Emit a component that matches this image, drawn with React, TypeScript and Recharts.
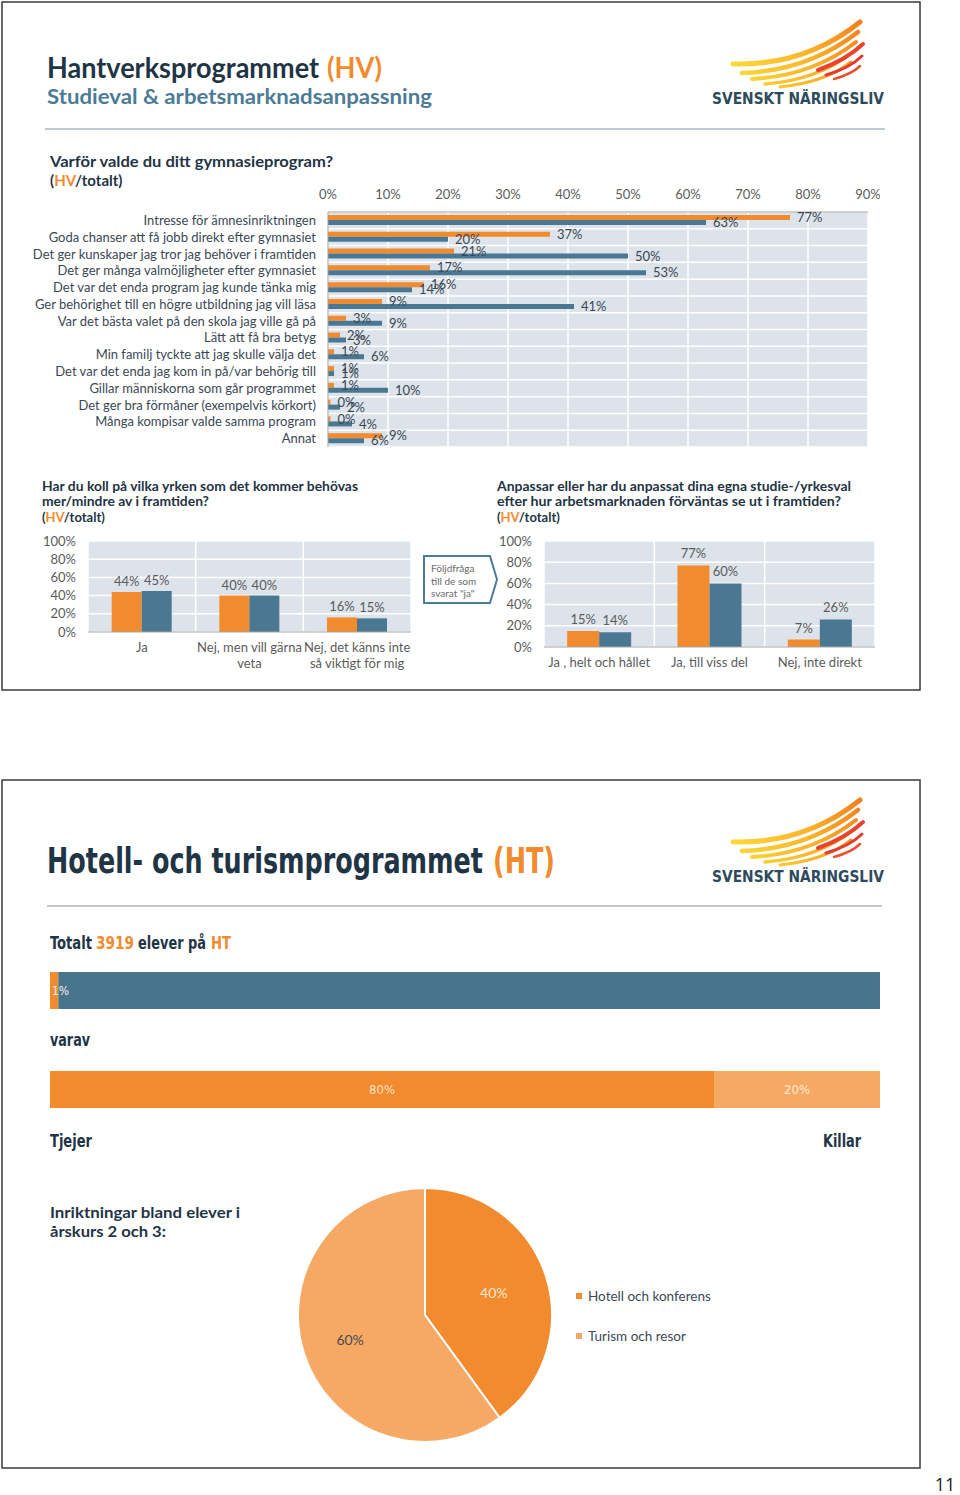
import React from "react";
import {
  BarChart,
  Bar,
  XAxis,
  YAxis,
  CartesianGrid,
  LabelList,
  PieChart,
  Pie,
  Cell,
  Legend,
} from "recharts";

// ---------- colours & fonts ----------
const ORANGE = "#f28a2e";
const BLUE = "#4a7893";
const BAR_BLUE = "#48758c";
const LIGHT_ORANGE = "#f6a964";
const PLOT_BG = "#dde3ea";
const DARK = "#1f3445";
const STEEL = "#4b7b96";
const TEXT = "#3b4854";
const TICK = "#5b5b5b";
const FONT = "Lato, 'Open Sans', sans-serif";
const NARROW = "'Liberation Sans Narrow', 'DejaVu Sans Condensed', 'Liberation Sans', sans-serif";

// ---------- data: Varför valde du ditt gymnasieprogram? ----------
const reasonLabels = [
  "Intresse för ämnesinriktningen",
  "Goda chanser att få jobb direkt efter gymnasiet",
  "Det ger kunskaper jag tror jag behöver i framtiden",
  "Det ger många valmöjligheter efter gymnasiet",
  "Det var det enda program jag kunde tänka mig",
  "Ger behörighet till en högre utbildning jag vill läsa",
  "Var det bästa valet på den skola jag ville gå på",
  "Lätt att få bra betyg",
  "Min familj tyckte att jag skulle välja det",
  "Det var det enda jag kom in på/var behörig till",
  "Gillar människorna som går programmet",
  "Det ger bra förmåner (exempelvis körkort)",
  "Många kompisar valde samma program",
  "Annat",
];
const reasonHV = [77, 37, 21, 17, 16, 9, 3, 2, 1, 1, 1, 0.4, 0.4, 9];
const reasonTotal = [63, 20, 50, 53, 14, 41, 9, 3, 6, 1, 10, 2, 4, 6];
const reasonTicks = [0, 10, 20, 30, 40, 50, 60, 70, 80, 90];

// ---------- data: Har du koll på vilka yrken ... ----------
const q2Labels = ["Ja", "Nej, men vill gärna\nveta", "Nej, det känns inte\nså viktigt för mig"];
const q2HV = [44, 40, 16];
const q2Total = [45, 40, 15];

// ---------- data: Anpassar eller har du anpassat ... ----------
const q3Labels = ["Ja , helt och hållet", "Ja, till viss del", "Nej, inte direkt"];
const q3HV = [15, 77, 7];
const q3Total = [14, 60, 26];
const colTicks = [0, 20, 40, 60, 80, 100];

// ---------- data: Hotell- och turismprogrammet ----------
const htProgram = ["HT"];
const htShare = [1];
const htOthers = [99];
const genderGirls = [80];
const genderBoys = [20];
const directionNames = ["Hotell och konferens", "Turism och resor"];
const directionValues = [40, 60];
const directionColors = [ORANGE, LIGHT_ORANGE];

// ---------- derived tables ----------
const reasonData = reasonLabels.map((name, i) => ({ name, hv: reasonHV[i], total: reasonTotal[i] }));
const q2Data = q2Labels.map((name, i) => ({ name, hv: q2HV[i], total: q2Total[i] }));
const q3Data = q3Labels.map((name, i) => ({ name, hv: q3HV[i], total: q3Total[i] }));
const htData = htProgram.map((name, i) => ({ name, share: htShare[i], others: htOthers[i] }));
const genderData = htProgram.map((name, i) => ({ name, girls: genderGirls[i], boys: genderBoys[i] }));
const directionData = directionNames.map((name, i) => ({ name, value: directionValues[i] }));

const pct = (v: any) => `${Math.round(Number(v))}%`;

const bandRows = (n: number) => ({ offset }: any) =>
  Array.from({ length: n + 1 }, (_, i) => offset.top + (i * offset.height) / n);
const bandCols = (n: number) => ({ offset }: any) =>
  Array.from({ length: n + 1 }, (_, i) => offset.left + (i * offset.width) / n);

const ReasonTick = ({ x, y, payload }: any) => (
  <text x={x} y={y} dy="0.35em" textAnchor="end" fill={TEXT} fontSize={13} fontFamily={FONT}>
    {payload.value}
  </text>
);

const CatTick = ({ x, y, payload }: any) => {
  const lines = String(payload.value).split("\n");
  return (
    <text x={x} y={y} textAnchor="middle" fill={TICK} fontSize={13} fontFamily={FONT}>
      {lines.map((l, i) => (
        <tspan key={i} x={x} dy={i === 0 ? "0.71em" : "1.18em"}>
          {l}
        </tspan>
      ))}
    </text>
  );
};

const pieLabel = (props: any) => {
  const { cx, cy, midAngle, outerRadius, percent, index } = props;
  const RAD = Math.PI / 180;
  const r = outerRadius * (index === 0 ? 0.57 : 0.62);
  const x = cx + r * Math.cos(-midAngle * RAD);
  const y = cy + r * Math.sin(-midAngle * RAD);
  return (
    <text
      x={x}
      y={y}
      textAnchor="middle"
      dominantBaseline="central"
      fill={index === 0 ? "#fde8d2" : "#4a4a4a"}
      fontSize={14}
      fontFamily={FONT}
    >
      {`${Math.round(percent * 100)}%`}
    </text>
  );
};

const PieLegend = ({ payload }: any) => (
  <div style={{ fontFamily: FONT, fontSize: 13.5, color: TEXT }}>
    {(payload || []).map((p: any, i: number) => (
      <div key={i} style={{ display: "flex", alignItems: "center", height: 20, marginBottom: 20 }}>
        <span
          style={{
            display: "inline-block",
            width: 6,
            height: 6,
            background: p.color || (p.payload && p.payload.fill),
            marginRight: 6,
          }}
        />
        <span>{p.value}</span>
      </div>
    ))}
  </div>
);

const Logo = ({ dy, id }: { dy: number; id: string }) => (
  <g transform={`translate(0, ${dy})`}>
    <defs>
      <linearGradient id={id} gradientUnits="userSpaceOnUse" x1={733} y1={70} x2={862} y2={25}>
        <stop offset="0" stopColor="#fcd93a" />
        <stop offset="0.55" stopColor="#f9b52a" />
        <stop offset="1" stopColor="#f2801f" />
      </linearGradient>
    </defs>
    <g fill="none" strokeLinecap="round">
      <path d="M733,64 Q805,66 860,22" stroke={`url(#${id})`} strokeWidth={5} />
      <path d="M742,73 Q808,71 858,32" stroke={`url(#${id})`} strokeWidth={4.5} />
      <path d="M752,79 Q812,76 856,42" stroke={`url(#${id})`} strokeWidth={4} />
      <path d="M765,84 Q818,80 853,52" stroke={`url(#${id})`} strokeWidth={3.5} />
      <path d="M780,87 Q826,82 851,62" stroke={`url(#${id})`} strokeWidth={3} />
      <path d="M818,70 Q846,60 863,44" stroke="#e8432f" strokeWidth={4} />
      <path d="M826,75 Q850,68 862,56" stroke="#e63a2f" strokeWidth={3} />
      <path d="M834,79 Q852,74 860,66" stroke="#e6532f" strokeWidth={2.5} />
    </g>
    <text
      x={712}
      y={104}
      fontSize={16}
      fontWeight={700}
      fill="#2e4a5d"
      fontFamily={NARROW}
      textLength={172}
      lengthAdjust="spacingAndGlyphs"
    >
      SVENSKT NÄRINGSLIV
    </text>
  </g>
);

const Static = () => (
  <svg width={960} height={1495} style={{ position: "absolute", left: 0, top: 0 }}>
    {/* ---------- slide 1 ---------- */}
    <rect x={2} y={2} width={918} height={688} fill="none" stroke="#3a3a3a" strokeWidth={1.5} />
    <g fontFamily={FONT} fontWeight={700} fontSize={28}>
      <text x={47} y={78} fill={DARK} textLength={272} lengthAdjust="spacingAndGlyphs">
        Hantverksprogrammet
      </text>
      <text x={327} y={78} fill={ORANGE} textLength={55} lengthAdjust="spacingAndGlyphs">
        (HV)
      </text>
    </g>
    <text x={47} y={104} fontSize={20} fontWeight={700} fill={STEEL} fontFamily={FONT} textLength={385} lengthAdjust="spacingAndGlyphs">
      Studieval &amp; arbetsmarknadsanpassning
    </text>
    <line x1={45} y1={129} x2={885} y2={129} stroke="#bfcbd3" strokeWidth={2} />
    <Logo dy={0} id="wing1" />

    <g fontFamily={FONT} fontWeight={700} fill={DARK}>
      <text x={50} y={167} fontSize={15} textLength={283} lengthAdjust="spacingAndGlyphs">
        Varför valde du ditt gymnasieprogram?
      </text>
      <text x={50} y={186} fontSize={15}>
        (<tspan fill={ORANGE}>HV</tspan>/totalt)
      </text>

      <text x={42} y={491} fontSize={13} textLength={316} lengthAdjust="spacingAndGlyphs">
        Har du koll på vilka yrken som det kommer behövas
      </text>
      <text x={42} y={506} fontSize={13} textLength={167} lengthAdjust="spacingAndGlyphs">
        mer/mindre av i framtiden?
      </text>
      <text x={42} y={522} fontSize={13}>
        (<tspan fill={ORANGE}>HV</tspan>/totalt)
      </text>

      <text x={497} y={491} fontSize={13} textLength={354} lengthAdjust="spacingAndGlyphs">
        Anpassar eller har du anpassat dina egna studie-/yrkesval
      </text>
      <text x={497} y={506} fontSize={13} textLength={344} lengthAdjust="spacingAndGlyphs">
        efter hur arbetsmarknaden förväntas  se ut i framtiden?
      </text>
      <text x={497} y={522} fontSize={13}>
        (<tspan fill={ORANGE}>HV</tspan>/totalt)
      </text>
    </g>

    <path d="M424,556 L490,556 L497,579.5 L490,603 L424,603 Z" fill="#fff" stroke={STEEL} strokeWidth={2} />
    <g fontFamily={FONT} fontSize={10} fill="#6a6a6a">
      <text x={431} y={572}>Följdfråga</text>
      <text x={431} y={585}>till de som</text>
      <text x={431} y={597}>svarat "ja"</text>
    </g>

    {/* ---------- slide 2 ---------- */}
    <rect x={2} y={780} width={918} height={688} fill="none" stroke="#3a3a3a" strokeWidth={1.5} />
    <g fontFamily={NARROW} fontWeight={700} fontSize={36}>
      <text x={47} y={873} fill={DARK} textLength={436} lengthAdjust="spacingAndGlyphs">
        Hotell- och turismprogrammet
      </text>
      <text x={493} y={873} fill={ORANGE} textLength={62} lengthAdjust="spacingAndGlyphs">
        (HT)
      </text>
    </g>
    <Logo dy={778} id="wing2" />
    <line x1={47} y1={906} x2={882} y2={906} stroke="#c6c6c6" strokeWidth={2} />

    <g fontFamily={NARROW} fontWeight={700} fill={DARK} fontSize={17}>
      <text x={50} y={949} textLength={42} lengthAdjust="spacingAndGlyphs">Totalt</text>
      <text x={96} y={949} fill={ORANGE} textLength={38} lengthAdjust="spacingAndGlyphs">3919</text>
      <text x={138} y={949} textLength={68} lengthAdjust="spacingAndGlyphs">elever på</text>
      <text x={211} y={949} fill={ORANGE} textLength={20} lengthAdjust="spacingAndGlyphs">HT</text>
      <text x={50} y={1046} textLength={40} lengthAdjust="spacingAndGlyphs">varav</text>
      <text x={50} y={1147} textLength={42} lengthAdjust="spacingAndGlyphs">Tjejer</text>
      <text x={823} y={1147} textLength={38} lengthAdjust="spacingAndGlyphs">Killar</text>
    </g>
    <g fontFamily={FONT} fontWeight={700} fill={DARK} fontSize={15}>
      <text x={50} y={1218} textLength={190} lengthAdjust="spacingAndGlyphs">Inriktningar bland elever i</text>
      <text x={50} y={1237} textLength={116} lengthAdjust="spacingAndGlyphs">årskurs 2 och 3:</text>
    </g>

    <text x={945} y={1491} textAnchor="middle" fontSize={18} fill="#222" fontFamily="'Open Sans', sans-serif">
      11
    </text>
  </svg>
);

export default function App() {
  return (
    <div
      style={{
        position: "absolute",
        left: 0,
        top: 0,
        width: 960,
        height: 1495,
        background: "#fff",
        fontFamily: FONT,
        overflow: "hidden",
      }}
    >
      <Static />

      {/* Varför valde du ditt gymnasieprogram? */}
      <div style={{ position: "absolute", left: 20, top: 180 }}>
        <BarChart
          layout="vertical"
          width={860}
          height={270}
          data={reasonData}
          margin={{ top: 0, right: 12, bottom: 3, left: 0 }}
          barGap={0}
          barSize={5}
        >
          <CartesianGrid
            fill={PLOT_BG}
            stroke="#ffffff"
            strokeWidth={1.5}
            horizontalCoordinatesGenerator={bandRows(reasonData.length)}
          />
          <XAxis
            type="number"
            orientation="top"
            domain={[0, 90]}
            ticks={reasonTicks}
            interval={0}
            tickFormatter={pct}
            height={32}
            axisLine={{ stroke: "#a0a0a0" }}
            tickLine={false}
            tickSize={0}
            tickMargin={13}
            tick={{ fill: TICK, fontSize: 13, fontFamily: FONT }}
          />
          <YAxis
            type="category"
            dataKey="name"
            width={308}
            interval={0}
            axisLine={{ stroke: "#a0a0a0" }}
            tickLine={false}
            tickSize={0}
            tickMargin={12}
            tick={<ReasonTick />}
          />
          <Bar dataKey="hv" fill={ORANGE} isAnimationActive={false}>
            <LabelList dataKey="hv" position="right" offset={7} formatter={pct} fill={TEXT} fontSize={13} fontFamily={FONT} />
          </Bar>
          <Bar dataKey="total" fill={BLUE} isAnimationActive={false}>
            <LabelList dataKey="total" position="right" offset={7} formatter={pct} fill={TEXT} fontSize={13} fontFamily={FONT} />
          </Bar>
        </BarChart>
      </div>

      {/* Har du koll på vilka yrken ... */}
      <div style={{ position: "absolute", left: 30, top: 530 }}>
        <BarChart
          width={390}
          height={150}
          data={q2Data}
          margin={{ top: 11, right: 9, bottom: 0, left: 0 }}
          barGap={0}
          barCategoryGap="22%"
        >
          <CartesianGrid fill={PLOT_BG} stroke="#ffffff" strokeWidth={1.5} verticalCoordinatesGenerator={bandCols(q2Data.length)} />
          <XAxis
            dataKey="name"
            height={48}
            interval={0}
            axisLine={{ stroke: "#a6a6a6" }}
            tickLine={false}
            tickSize={0}
            tickMargin={11}
            tick={<CatTick />}
          />
          <YAxis
            domain={[0, 100]}
            ticks={colTicks}
            interval={0}
            tickFormatter={pct}
            width={58}
            axisLine={false}
            tickLine={false}
            tickSize={0}
            tickMargin={12}
            tick={{ fill: TICK, fontSize: 13, fontFamily: FONT }}
          />
          <Bar dataKey="hv" fill={ORANGE} isAnimationActive={false}>
            <LabelList dataKey="hv" position="top" offset={6} formatter={pct} fill={TICK} fontSize={13} fontFamily={FONT} />
          </Bar>
          <Bar dataKey="total" fill={BLUE} isAnimationActive={false}>
            <LabelList dataKey="total" position="top" offset={6} formatter={pct} fill={TICK} fontSize={13} fontFamily={FONT} />
          </Bar>
        </BarChart>
      </div>

      {/* Anpassar eller har du anpassat ... */}
      <div style={{ position: "absolute", left: 480, top: 530 }}>
        <BarChart
          width={400}
          height={150}
          data={q3Data}
          margin={{ top: 11, right: 5, bottom: 0, left: 0 }}
          barGap={0}
          barCategoryGap="21%"
        >
          <CartesianGrid fill={PLOT_BG} stroke="#ffffff" strokeWidth={1.5} verticalCoordinatesGenerator={bandCols(q3Data.length)} />
          <XAxis
            dataKey="name"
            height={33}
            interval={0}
            axisLine={{ stroke: "#a6a6a6" }}
            tickLine={false}
            tickSize={0}
            tickMargin={11}
            tick={<CatTick />}
          />
          <YAxis
            domain={[0, 100]}
            ticks={colTicks}
            interval={0}
            tickFormatter={pct}
            width={64}
            axisLine={false}
            tickLine={false}
            tickSize={0}
            tickMargin={12}
            tick={{ fill: TICK, fontSize: 13, fontFamily: FONT }}
          />
          <Bar dataKey="hv" fill={ORANGE} isAnimationActive={false}>
            <LabelList dataKey="hv" position="top" offset={7} formatter={pct} fill={TICK} fontSize={13} fontFamily={FONT} />
          </Bar>
          <Bar dataKey="total" fill={BLUE} isAnimationActive={false}>
            <LabelList dataKey="total" position="top" offset={7} formatter={pct} fill={TICK} fontSize={13} fontFamily={FONT} />
          </Bar>
        </BarChart>
      </div>

      {/* Totalt 3919 elever på HT */}
      <div style={{ position: "absolute", left: 50, top: 972 }}>
        <BarChart
          layout="vertical"
          width={830}
          height={37}
          data={htData}
          margin={{ top: 0, right: 0, bottom: 0, left: 0 }}
          barCategoryGap={0}
        >
          <XAxis type="number" hide domain={[0, 100]} />
          <YAxis type="category" dataKey="name" hide />
          <Bar dataKey="share" stackId="a" fill={ORANGE} isAnimationActive={false}>
            <LabelList dataKey="share" position="insideLeft" offset={2} formatter={pct} fill="#f2f2f2" fontSize={12} fontFamily={NARROW} />
          </Bar>
          <Bar dataKey="others" stackId="a" fill={BAR_BLUE} isAnimationActive={false} />
        </BarChart>
      </div>

      {/* Tjejer / Killar */}
      <div style={{ position: "absolute", left: 50, top: 1071 }}>
        <BarChart
          layout="vertical"
          width={830}
          height={37}
          data={genderData}
          margin={{ top: 0, right: 0, bottom: 0, left: 0 }}
          barCategoryGap={0}
        >
          <XAxis type="number" hide domain={[0, 100]} />
          <YAxis type="category" dataKey="name" hide />
          <Bar dataKey="girls" stackId="g" fill={ORANGE} isAnimationActive={false}>
            <LabelList dataKey="girls" position="center" formatter={pct} fill="#fde3c6" fontSize={13} fontFamily={NARROW} />
          </Bar>
          <Bar dataKey="boys" stackId="g" fill={LIGHT_ORANGE} isAnimationActive={false}>
            <LabelList dataKey="boys" position="center" formatter={pct} fill="#fde9d4" fontSize={13} fontFamily={NARROW} />
          </Bar>
        </BarChart>
      </div>

      {/* Inriktningar */}
      <div style={{ position: "absolute", left: 275, top: 1165 }}>
        <PieChart width={480} height={300} margin={{ top: 0, right: 0, bottom: 0, left: 0 }}>
          <Pie
            data={directionData}
            dataKey="value"
            nameKey="name"
            cx={150}
            cy={150}
            outerRadius={127}
            startAngle={90}
            endAngle={-270}
            stroke="#ffffff"
            strokeWidth={2}
            label={pieLabel}
            labelLine={false}
            isAnimationActive={false}
          >
            {directionData.map((d, i) => (
              <Cell key={d.name} fill={directionColors[i]} />
            ))}
          </Pie>
          <Legend
            content={<PieLegend />}
            layout="vertical"
            align="right"
            verticalAlign="top"
            wrapperStyle={{ left: 301, top: 121, right: "auto", width: 200 }}
          />
        </PieChart>
      </div>
    </div>
  );
}
